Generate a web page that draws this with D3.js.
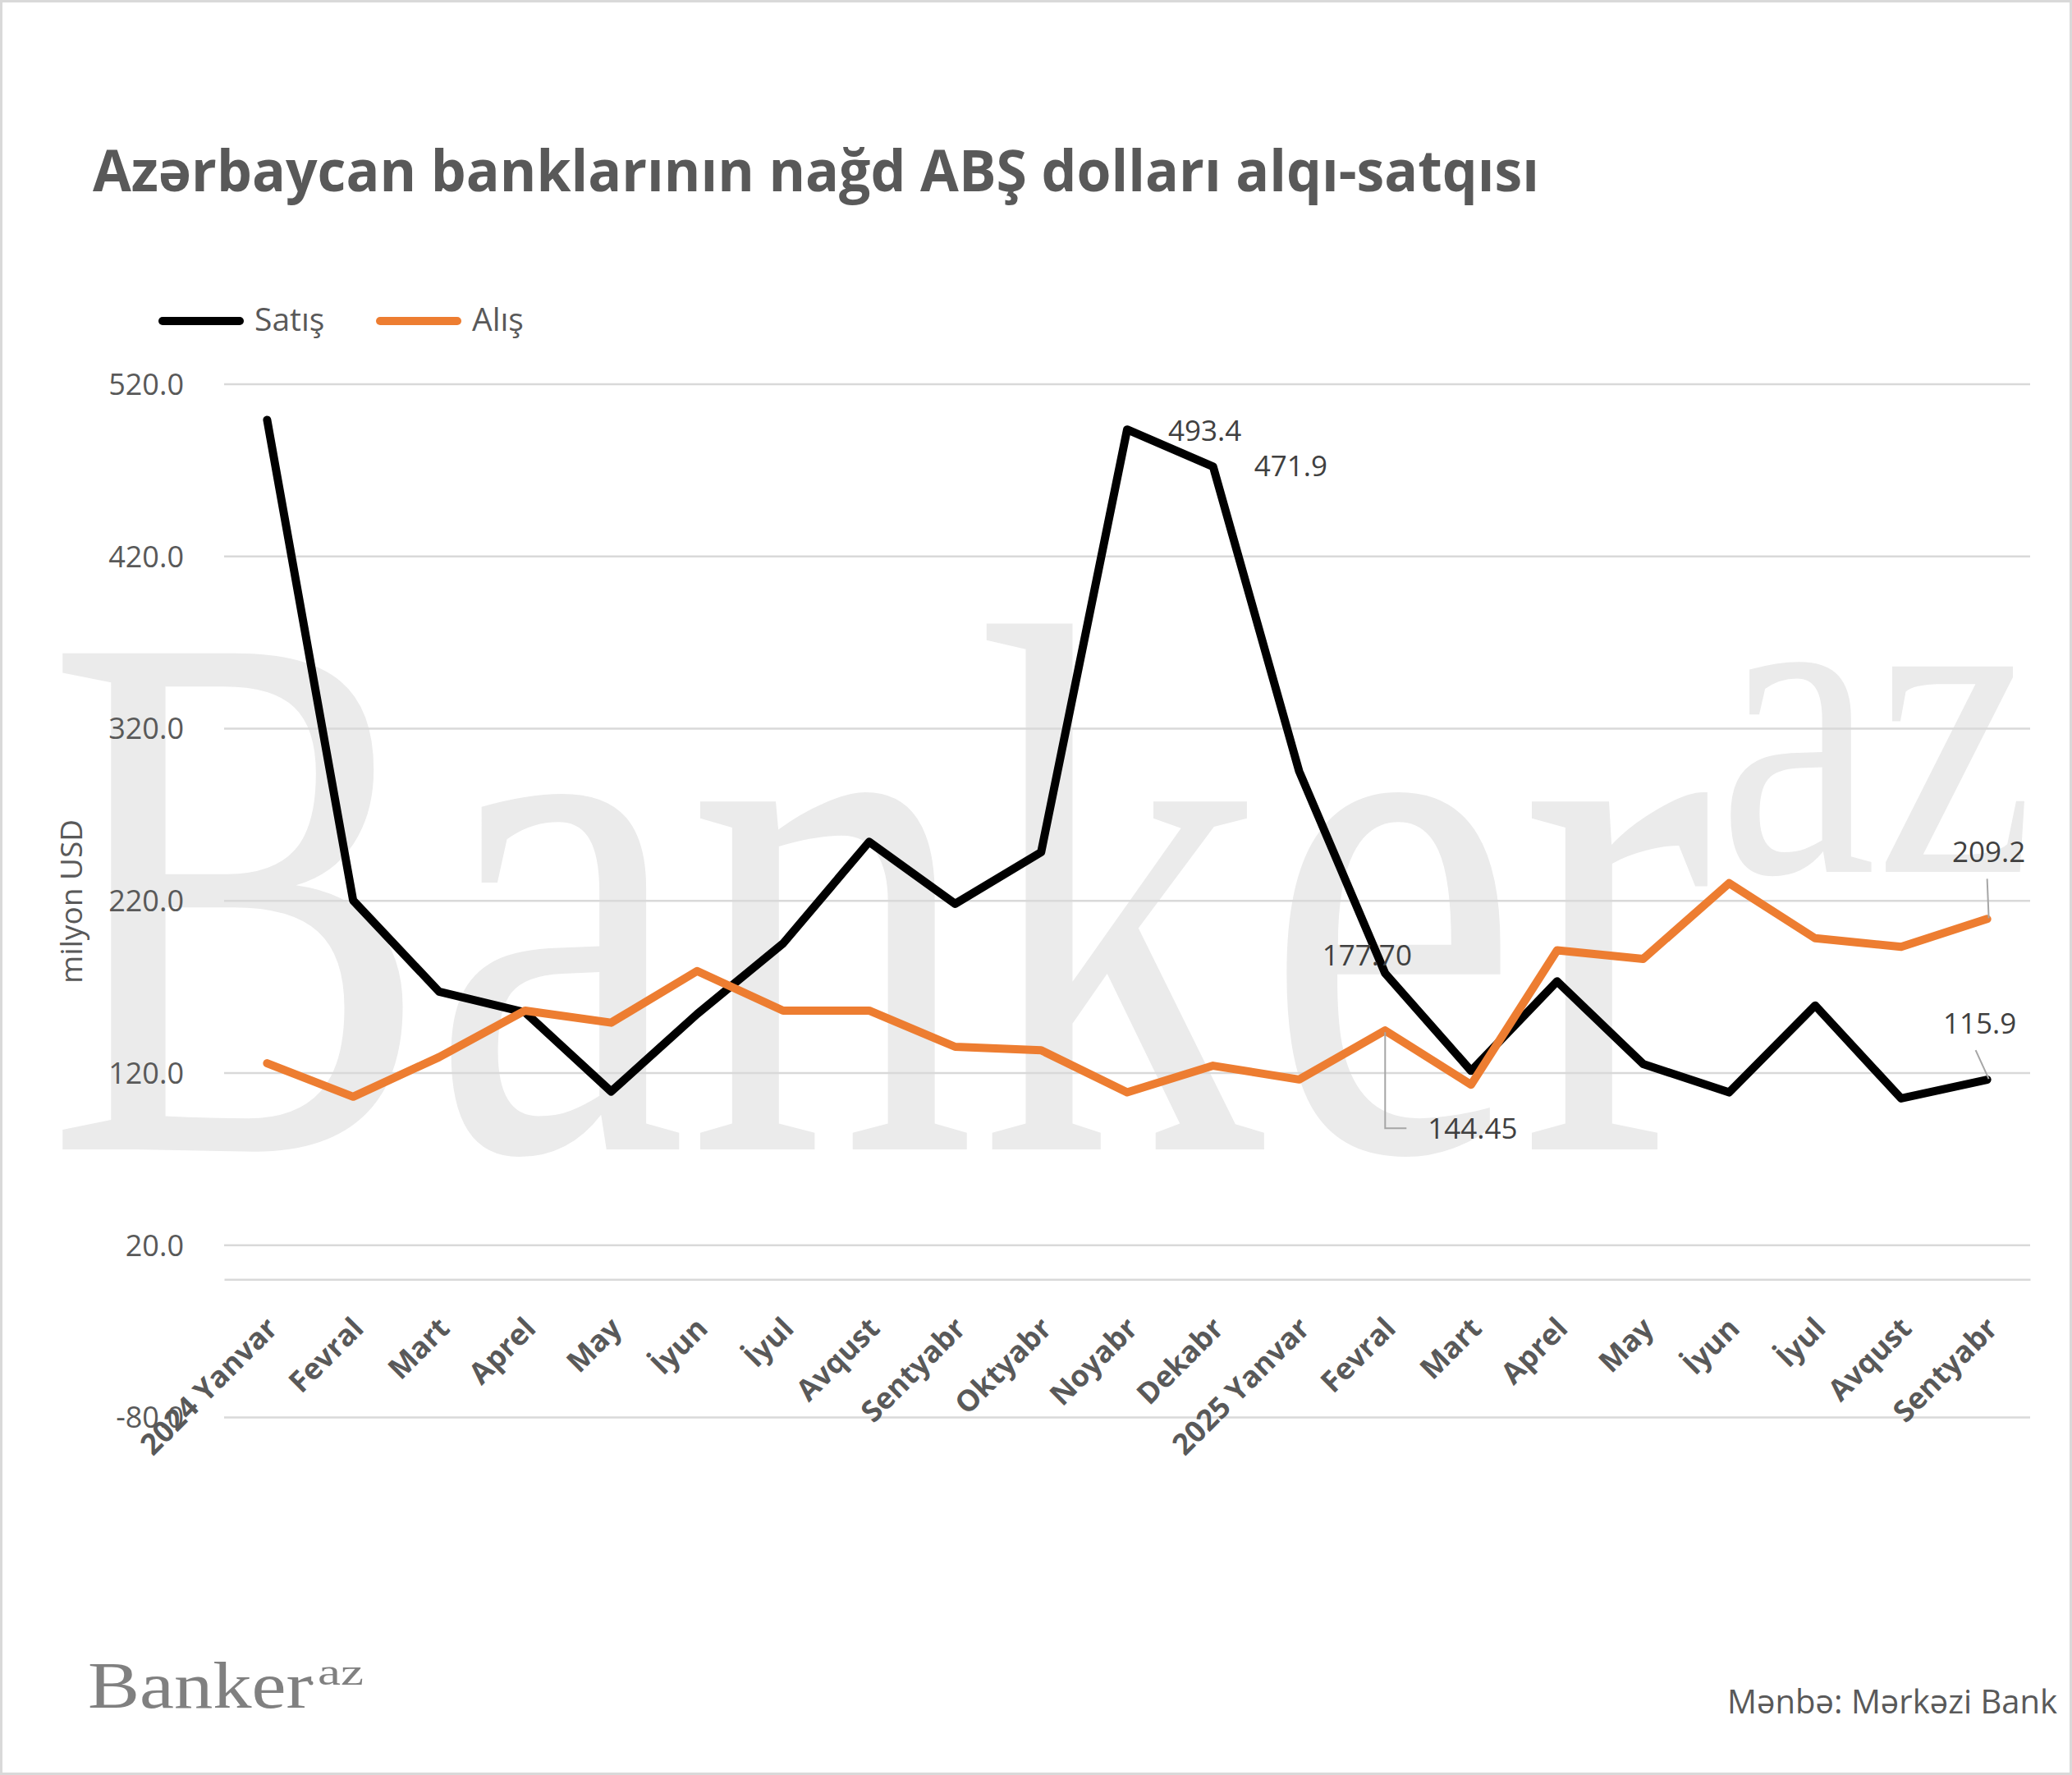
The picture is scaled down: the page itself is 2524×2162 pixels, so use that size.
<!DOCTYPE html>
<html>
<head>
<meta charset="utf-8">
<script src="https://cdn.jsdelivr.net/npm/d3@7"></script>
<style>
  html, body { margin: 0; padding: 0; background: #ffffff; }
  svg { display: block; }
  text { font-family: "Open Sans", "Noto Sans", sans-serif; }
</style>
</head>
<body>
<svg id="chart" width="2524" height="2162"></svg>
<script>
// ---------- data ----------
const categories = ["2024 Yanvar", "Fevral", "Mart", "Aprel", "May", "İyun", "İyul", "Avqust", "Sentyabr", "Oktyabr", "Noyabr", "Dekabr",
                    "2025 Yanvar", "Fevral", "Mart", "Aprel", "May", "İyun", "İyul", "Avqust", "Sentyabr"];
const satis = [499, 220, 167, 155, 109, 154, 195, 254, 218, 248, 493.4, 471.9, 295, 177.7, 121, 173, 125, 108.5, 159, 105, 115.9];
const alis  = [125.4, 106, 129, 156, 149, 179, 156, 156, 135, 133, 108.5, 124, 116, 144.45, 113, 191, 186, 230, 198, 193, 209.2];
const seriesNames = ["Satış", "Alış"];
const yTicks = [-80, 20, 120, 220, 320, 420, 520];
const titleText = "Azərbaycan banklarının nağd ABŞ dolları alqı-satqısı";
const yAxisTitle = "milyon USD";
const sourceText = "Mənbə: Mərkəzi Bank";
// data labels: [series index, point index, text]
const dataLabels = [[0, 10, "493.4"], [0, 11, "471.9"], [0, 13, "177.70"], [1, 13, "144.45"], [1, 20, "209.2"], [0, 20, "115.9"]];

// ---------- setup ----------
const colors = ["#000000", "#ED7D31"];
const textGrey = "#595959";
const svg = d3.select("#chart");
const W = 2524, H = 2162;
const plotLeft = 273, plotRight = 2473, plotTop = 467.4, plotBottom = 1726;

svg.append("rect").attr("x", 0).attr("y", 0).attr("width", W).attr("height", H).attr("fill", "#fff");
svg.append("rect").attr("x", 1.5).attr("y", 1.5).attr("width", W - 3).attr("height", H - 3)
  .attr("fill", "none").attr("stroke", "#d9d9d9").attr("stroke-width", 3);

// watermark
const wm = svg.append("g").attr("fill", "#ebebeb");
wm.append("text").attr("x", 56).attr("y", 1400).attr("font-size", 923)
  .attr("textLength", 2030).attr("lengthAdjust", "spacingAndGlyphs").style("font-family", "'Liberation Serif', serif").text("Banker");
wm.append("text").attr("x", 2093).attr("y", 1062).attr("font-size", 545)
  .attr("textLength", 385).attr("lengthAdjust", "spacingAndGlyphs").style("font-family", "'Liberation Serif', serif").text("az");

// scales
const x = d3.scaleBand().domain(d3.range(categories.length)).range([plotLeft, plotRight]).padding(0);
const y = d3.scaleLinear().domain([-80, 520]).range([plotBottom, plotTop]);
const cx = i => x(i) + x.bandwidth() / 2;

const loc = d3.formatLocale({decimal: ".", thousands: ",", grouping: [3], currency: ["", ""], minus: "-"});
const fmt = loc.format(".1f");

// y axis + grid
const yAxis = svg.append("g").attr("transform", `translate(${plotLeft},0)`)
  .call(d3.axisLeft(y).tickValues(yTicks).tickFormat(fmt).tickSizeInner(-(plotRight - plotLeft)).tickSizeOuter(0).tickPadding(49));
yAxis.select(".domain").remove();
yAxis.selectAll(".tick line").attr("stroke", "#d9d9d9").attr("stroke-width", 2.5);
yAxis.selectAll(".tick text").attr("fill", textGrey).attr("font-size", 36)
  .style("font-family", "'Open Sans', sans-serif").attr("dy", "0.36em");

// x axis at 0
const xAxis = svg.append("g").attr("transform", `translate(0,${y(0)})`)
  .call(d3.axisBottom(x).tickFormat(i => categories[i]).tickSize(0).tickSizeOuter(0));
xAxis.select(".domain").attr("stroke", "#d9d9d9").attr("stroke-width", 2.5);
xAxis.selectAll(".tick text")
  .attr("x", 0).attr("y", 0).attr("dy", 0)
  .attr("text-anchor", "end")
  .attr("transform", "translate(15,62) rotate(-45)")
  .attr("fill", textGrey).attr("font-size", 36).attr("font-weight", 700)
  .style("font-family", "'Open Sans', sans-serif");

// lines
const line = d3.line().x((d, i) => cx(i)).y(d => y(d));
[satis, alis].forEach((s, k) => {
  svg.append("path").datum(s).attr("d", line)
    .attr("fill", "none").attr("stroke", colors[k]).attr("stroke-width", 10)
    .attr("stroke-linejoin", "round").attr("stroke-linecap", "round");
});

// data labels
const series = [satis, alis];
const lab = svg.append("g").attr("fill", "#404040").attr("font-size", 35);
const leader = svg.append("g").attr("stroke", "#a6a6a6").attr("stroke-width", 2).attr("fill", "none");
dataLabels.forEach(([s, i, t]) => {
  const px = cx(i), py = y(series[s][i]);
  let tx, ty, anchor = "start";
  if (i === 10) { tx = px + 50; ty = py + 14; }
  else if (i === 11) { tx = px + 50; ty = py + 12; }
  else if (s === 0 && i === 13) { tx = px - 22; ty = py - 9; anchor = "middle"; }
  else if (s === 1 && i === 13) {
    tx = px + 52; ty = py + 132;
    leader.append("path").attr("d", `M${px},${py + 2}V${py + 119}H${px + 26}`);
  }
  else if (s === 1 && i === 20) {
    tx = px + 2; ty = py - 69; anchor = "middle";
    leader.append("path").attr("d", `M${px + 2},${py - 1}L${px},${py - 49}`);
  }
  else if (s === 0 && i === 20) {
    tx = px - 9; ty = py - 56; anchor = "middle";
    leader.append("path").attr("d", `M${px + 2},${py - 1}L${px - 14},${py - 36}`);
  }
  lab.append("text").attr("x", tx).attr("y", ty).attr("text-anchor", anchor).text(t);
});

// title
svg.append("text").attr("x", 113).attr("y", 233).attr("font-size", 70).attr("font-weight", 700)
  .attr("fill", textGrey).attr("textLength", 1762).attr("lengthAdjust", "spacingAndGlyphs").text(titleText);

// legend
const legendX = [198, 463];
seriesNames.forEach((n, k) => {
  svg.append("line").attr("x1", legendX[k]).attr("x2", legendX[k] + 94).attr("y1", 391).attr("y2", 391)
    .attr("stroke", colors[k]).attr("stroke-width", 10).attr("stroke-linecap", "round");
  svg.append("text").attr("x", legendX[k] + 112).attr("y", 403).attr("font-size", 39).attr("fill", textGrey).text(n);
});

// y axis title
svg.append("text").attr("transform", "translate(100,1098) rotate(-90)").attr("text-anchor", "middle")
  .attr("font-size", 37).attr("fill", textGrey).text(yAxisTitle);

// source
svg.append("text").attr("x", 2506).attr("y", 2087).attr("text-anchor", "end").attr("font-size", 40)
  .attr("fill", textGrey).text(sourceText);

// bottom logo
const logo = svg.append("g").attr("fill", "#808080");
logo.append("text").attr("x", 107).attr("y", 2080).attr("font-size", 80).attr("textLength", 273)
  .attr("lengthAdjust", "spacingAndGlyphs").style("font-family", "'Liberation Serif', serif").text("Banker");
logo.append("circle").attr("cx", 379).attr("cy", 2050).attr("r", 2.5);
logo.append("text").attr("x", 387).attr("y", 2052).attr("font-size", 46).attr("textLength", 56)
  .attr("lengthAdjust", "spacingAndGlyphs").style("font-family", "'Liberation Serif', serif").text("az");
</script>
</body>
</html>
